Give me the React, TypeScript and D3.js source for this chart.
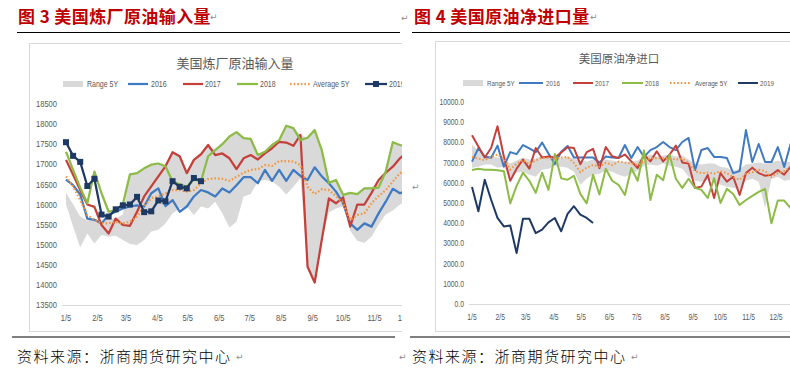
import React from "react";
import * as d3 from "d3";

const YEAR = 2019;
const monthTickLabels = ["1/5", "2/5", "3/5", "4/5", "5/5", "6/5", "7/5", "8/5", "9/5", "10/5", "11/5", "12/5"];
const legendNames = ["Range 5Y", "2016", "2017", "2018", "Average 5Y", "2019"];

// ---- Figure 3: US refinery crude input ----
const refineryYTicks = [13500, 14000, 14500, 15000, 15500, 16000, 16500, 17000, 17500, 18000, 18500];
const refineryRangeLow = [16000, 15450, 14930, 15280, 15030, 15240, 15200, 15220, 15120, 15020, 14990, 15120, 15330, 15370, 15530, 15780, 15900, 15950, 15740, 15950, 15900, 16070, 15780, 15430, 15570, 16200, 16260, 16570, 16610, 16570, 16440, 16250, 16440, 16650, 14450, 14060, 15120, 15800, 15900, 15950, 15350, 15100, 15050, 15200, 15500, 15750, 15850, 16000, 16100, 16200, 16300, 16400];
const refineryRangeHigh = [16300, 16000, 15700, 15600, 15650, 15550, 15650, 15650, 15750, 16750, 16780, 16900, 16990, 17020, 16950, 17300, 17200, 16780, 17110, 17250, 17480, 17350, 17500, 17690, 17800, 17650, 17630, 17230, 17310, 17480, 17600, 17960, 17900, 17730, 17660, 17850, 17350, 16540, 16610, 16240, 16290, 16260, 16400, 16400, 16610, 16820, 17550, 17480, 17450, 17500, 17550, 17600];
const refinery2016 = [16620, 16480, 16250, 15650, 15620, 15530, 15740, 15820, 15900, 15950, 15980, 15950, 16280, 16400, 15960, 16110, 15820, 15950, 16200, 16360, 16300, 16200, 16400, 16300, 16480, 16680, 16680, 16530, 16860, 16590, 16860, 16590, 16860, 16710, 16610, 16925, 16700, 16530, 16320, 16030, 15530, 15370, 15530, 15450, 15780, 16070, 16390, 16280, 16350, 16500, 16600, 16650];
const refinery2017 = [17110, 16740, 16360, 16000, 15940, 15490, 15280, 15650, 15490, 15470, 15820, 16200, 16450, 16700, 16950, 17300, 17200, 16780, 17110, 17250, 17480, 17230, 17270, 17150, 16880, 17150, 17230, 17120, 17270, 17400, 17560, 17540, 17460, 17730, 14450, 14060, 15120, 16150, 16030, 16180, 15450, 16000, 16000, 16290, 16610, 16790, 16940, 17150, 17300, 17400, 17500, 17550];
const refinery2018 = [17310, 16860, 16420, 16030, 16820, 16280, 15820, 15860, 16000, 16750, 16780, 16900, 16990, 17020, 16950, 16570, 16500, 16440, 16620, 16580, 17200, 17350, 17500, 17690, 17800, 17650, 17630, 17230, 17310, 17480, 17600, 17960, 17900, 17600, 17660, 17850, 17350, 16540, 16610, 16240, 16290, 16260, 16400, 16400, 16420, 16820, 17550, 17480, 17450, 17500, 17550, 17600];
const refineryAvg5Y = [16700, 16450, 16110, 15740, 15620, 15530, 15530, 15570, 15530, 15570, 15700, 15950, 16160, 16200, 16280, 16360, 16360, 16320, 16360, 16530, 16630, 16650, 16640, 16590, 16690, 16790, 16860, 16880, 16980, 16960, 17080, 17080, 17070, 16980, 16440, 16260, 16380, 16360, 16210, 16030, 15620, 15740, 15780, 16030, 16210, 16360, 16570, 16780, 16850, 16950, 17000, 17050];
const refinery2019 = [17550, 17210, 17060, 16460, 16640, 15750, 15700, 15880, 15980, 16000, 16190, 15810, 15830, 16100, 16080, 16580, 16440, 16400, 16660, 16580];

// ---- Figure 4: US crude net imports ----
const importsYTicks = [0, 1000, 2000, 3000, 4000, 5000, 6000, 7000, 8000, 9000, 10000];
const importsRangeLow = [6750, 6800, 6900, 6900, 6750, 6800, 6300, 6500, 6550, 6400, 6300, 6650, 6700, 6850, 6800, 6750, 6550, 5900, 6200, 6400, 6450, 6600, 6550, 6400, 6300, 6450, 6600, 6850, 6900, 6850, 6950, 6850, 6800, 6700, 6300, 6100, 6050, 6150, 6100, 5900, 5800, 5750, 5650, 6100, 6200, 6050, 4750, 6200, 6300, 6100, 6150, 6200];
const importsRangeHigh = [7900, 7600, 7300, 7300, 7250, 7200, 6950, 7100, 7250, 7150, 7200, 7350, 7200, 7350, 7200, 7300, 7200, 7100, 7050, 7150, 7100, 7150, 7100, 7050, 7000, 7050, 7100, 7300, 7400, 7300, 7350, 7400, 7300, 7350, 7150, 6950, 6900, 6950, 6950, 6800, 6750, 6600, 6700, 6900, 6950, 7000, 6950, 7000, 7100, 7000, 7050, 7000];
const imports2016 = [7050, 7720, 7290, 7240, 7840, 6800, 7520, 7420, 7870, 7700, 7520, 7990, 7450, 6930, 7540, 7820, 7250, 7250, 7250, 7250, 7000, 7300, 7250, 7230, 7870, 7230, 7770, 7280, 7620, 7770, 8020, 7770, 7620, 8020, 8220, 6630, 7620, 7720, 7280, 7280, 7230, 6480, 6580, 8610, 7030, 7920, 7030, 7030, 7770, 6780, 7920, 7850];
const imports2017 = [8350, 7800, 7250, 7720, 8800, 7300, 6100, 6700, 7150, 6700, 7720, 7250, 7300, 7250, 7500, 7760, 7720, 6920, 7520, 7680, 6720, 7770, 7310, 7230, 7400, 7060, 6730, 7390, 7060, 7560, 7060, 7390, 7840, 7010, 6950, 5740, 5810, 6390, 5250, 6480, 6060, 6300, 5400, 6480, 6750, 6480, 6350, 6400, 6630, 6400, 6800, 6700];
const imports2018 = [6630, 6700, 6650, 6650, 6620, 6570, 4980, 5850, 6500, 6100, 5500, 6500, 5650, 7430, 6220, 6150, 6350, 5450, 4980, 6400, 5420, 6700, 6100, 5900, 5400, 6730, 6100, 7600, 5150, 6400, 6130, 7400, 6200, 5750, 6200, 5750, 5650, 5250, 6230, 5000, 5700, 5450, 4900, 5150, 5350, 5550, 5700, 4000, 5120, 5120, 4750, 5000];
const importsAvg5Y = [7280, 7200, 7120, 7280, 7400, 7200, 6650, 6950, 7130, 6930, 7100, 7240, 7220, 7180, 7250, 7280, 6980, 6530, 6750, 6880, 6800, 7000, 6880, 7050, 7000, 6960, 6880, 7050, 7220, 7220, 7220, 7200, 7150, 7200, 7000, 6580, 6480, 6500, 6450, 6580, 6480, 6280, 6150, 6450, 6520, 6650, 6580, 6280, 6480, 6580, 6780, 6800];
const imports2019 = [5790, 4590, 6150, 5160, 4260, 3840, 3890, 2520, 4220, 4220, 3510, 3680, 4040, 4260, 3600, 4460, 4840, 4420, 4260, 4010];

const COLORS = {
  range: "#D9D9D9",
  y2016: "#3F7AC2",
  y2017: "#C5403B",
  y2018: "#8CBB46",
  avg: "#F5953F",
  y2019: "#1E3A64",
};
const seriesColors = [COLORS.range, COLORS.y2016, COLORS.y2017, COLORS.y2018, COLORS.avg, COLORS.y2019];

const weekDate = (i: number) => new Date(YEAR, 0, 5 + 7 * i);
const parseTick = (s: string) => {
  const [m, d] = s.split("/").map(Number);
  return new Date(YEAR, m - 1, d);
};

const LATIN = "'Liberation Sans', Arial, sans-serif";
const CJK = "'Noto Sans CJK SC', 'Noto Sans', sans-serif";

function SmallText(props: { x: number; y: number; size: number; sx: number; anchor?: string; fill?: string; children: any }) {
  const { x, y, size, sx, anchor = "start", fill = "#595959", children } = props;
  return (
    <text
      transform={`translate(${x},${y}) scale(${sx},1)`}
      textAnchor={anchor}
      fontSize={size}
      fill={fill}
      fontFamily={LATIN}
      dy="0.35em"
    >
      {children}
    </text>
  );
}

type ChartCfg = {
  id: string;
  clipW: number;
  frame: [number, number, number, number];
  title: string;
  titleX: number;
  titleY: number;
  titleSize: number;
  legendY: number;
  legendSize: number;
  legendSx: number;
  legendPos: [number, number, number][];
  xRange: [number, number];
  axisX0: number;
  yDomain: [number, number];
  yRange: [number, number];
  yTicks: number[];
  yFormat: (v: number) => string;
  yLabelX: number;
  tickSize: number;
  tickSx: number;
  xLabelY: number;
  low: number[];
  high: number[];
  s2016: number[];
  s2017: number[];
  s2018: number[];
  avg: number[];
  s2019: number[];
  markers: boolean;
  lw: number;
};

function Chart({ c }: { c: ChartCfg }) {
  const x = d3
    .scaleTime()
    .domain([parseTick(monthTickLabels[0]), parseTick(monthTickLabels[monthTickLabels.length - 1])])
    .range(c.xRange);
  const y = d3.scaleLinear().domain(c.yDomain).range(c.yRange);
  const xi = (i: number) => x(weekDate(i));
  const area = d3
    .area<number>()
    .x((_, i) => xi(i))
    .y0((_, i) => y(c.low[i]))
    .y1((d) => y(d));
  const line = d3
    .line<number>()
    .x((_, i) => xi(i))
    .y((d) => y(d));
  const [fx, fy, fw, fh] = c.frame;
  const axisY = y(c.yDomain[0]);

  return (
    <g clipPath={`url(#clip-${c.id})`}>
      <defs>
        <clipPath id={`clip-${c.id}`}>
          <rect x={c.frame[0] - 2} y={0} width={c.clipW} height={373} />
        </clipPath>
      </defs>
      <rect x={fx + 0.5} y={fy + 0.5} width={fw} height={fh} fill="#fff" stroke="#D9D9D9" strokeWidth={1} />
      <text
        x={c.titleX}
        y={c.titleY}
        textAnchor="middle"
        dominantBaseline="central"
        fontSize={c.titleSize}
        fill="#595959"
        fontFamily={CJK}
      >
        {c.title}
      </text>
      {legendNames.map((name, k) => {
        const [s0, s1, tx] = c.legendPos[k];
        const ly = c.legendY;
        let sw: any;
        if (k === 0) sw = <rect x={s0} y={ly - 3} width={s1 - s0} height={6} fill={COLORS.range} />;
        else if (k === 4)
          sw = (
            <line x1={s0} x2={s1} y1={ly} y2={ly} stroke={COLORS.avg} strokeWidth={c.lw} strokeDasharray="1.6 2" />
          );
        else
          sw = (
            <g>
              <line x1={s0} x2={s1} y1={ly} y2={ly} stroke={seriesColors[k]} strokeWidth={c.lw} />
              {k === 5 && c.markers && (
                <rect x={(s0 + s1) / 2 - 3} y={ly - 3} width={6} height={6} fill={COLORS.y2019} />
              )}
            </g>
          );
        return (
          <g key={name}>
            {sw}
            <SmallText x={tx} y={ly} size={c.legendSize} sx={c.legendSx}>
              {name}
            </SmallText>
          </g>
        );
      })}
      {c.yTicks.map((t) => (
        <SmallText key={t} x={c.yLabelX} y={y(t)} size={c.tickSize} sx={c.tickSx} anchor="end">
          {c.yFormat(t)}
        </SmallText>
      ))}
      <line x1={c.axisX0} x2={fx + fw} y1={axisY + 0.5} y2={axisY + 0.5} stroke="#D9D9D9" strokeWidth={1} />
      {monthTickLabels.map((t) => (
        <SmallText key={t} x={x(parseTick(t))} y={c.xLabelY} size={c.tickSize} sx={c.tickSx} anchor="middle">
          {t}
        </SmallText>
      ))}
      <path d={area(c.high) || ""} fill={COLORS.range} />
      <path d={line(c.s2016) || ""} fill="none" stroke={COLORS.y2016} strokeWidth={c.lw} strokeLinejoin="round" />
      <path d={line(c.s2017) || ""} fill="none" stroke={COLORS.y2017} strokeWidth={c.lw} strokeLinejoin="round" />
      <path d={line(c.s2018) || ""} fill="none" stroke={COLORS.y2018} strokeWidth={c.lw} strokeLinejoin="round" />
      <path d={line(c.avg) || ""} fill="none" stroke={COLORS.avg} strokeWidth={c.lw} strokeDasharray="1.6 2" />
      <path d={line(c.s2019) || ""} fill="none" stroke={COLORS.y2019} strokeWidth={c.lw} strokeLinejoin="round" />
      {c.markers &&
        c.s2019.map((v, i) => <rect key={i} x={xi(i) - 3} y={y(v) - 3} width={6} height={6} fill={COLORS.y2019} />)}
    </g>
  );
}

const leftCfg: ChartCfg = {
  id: "refinery",
  clipW: 375,
  frame: [29, 43, 420, 288],
  title: "美国炼厂原油输入量",
  titleX: 235,
  titleY: 62,
  titleSize: 13,
  legendY: 84,
  legendSize: 9,
  legendSx: 0.78,
  legendPos: [
    [63, 83, 87],
    [128, 148, 151],
    [183, 203, 205],
    [237, 258, 260],
    [290, 310, 313],
    [365, 387, 389],
  ],
  xRange: [66, 405],
  axisX0: 62,
  yDomain: [13500, 18500],
  yRange: [305, 104],
  yTicks: refineryYTicks,
  yFormat: (v) => String(v),
  yLabelX: 57,
  tickSize: 9,
  tickSx: 0.84,
  xLabelY: 318,
  low: refineryRangeLow,
  high: refineryRangeHigh,
  s2016: refinery2016,
  s2017: refinery2017,
  s2018: refinery2018,
  avg: refineryAvg5Y,
  s2019: refinery2019,
  markers: true,
  lw: 2.25,
};

const rightCfg: ChartCfg = {
  id: "imports",
  clipW: 400,
  frame: [435, 41, 380, 290],
  title: "美国原油净进口",
  titleX: 619,
  titleY: 58,
  titleSize: 11.5,
  legendY: 83,
  legendSize: 8,
  legendSx: 0.78,
  legendPos: [
    [463, 483, 487],
    [519, 543, 546],
    [573, 593, 595],
    [622, 643, 645],
    [670, 690, 695],
    [738, 758, 760],
  ],
  xRange: [472, 776],
  axisX0: 469,
  yDomain: [0, 10000],
  yRange: [304, 102],
  yTicks: importsYTicks,
  yFormat: d3.format(".1f"),
  yLabelX: 464,
  tickSize: 8.5,
  tickSx: 0.8,
  xLabelY: 317,
  low: importsRangeLow,
  high: importsRangeHigh,
  s2016: imports2016,
  s2017: imports2017,
  s2018: imports2018,
  avg: importsAvg5Y,
  s2019: imports2019,
  markers: false,
  lw: 2,
};

function Ret({ x, y }: { x: number; y: number }) {
  return (
    <text x={x} y={y} fontSize={9} fill="#8c8c8c" fontFamily="'DejaVu Sans', sans-serif" dominantBaseline="central">
      ↵
    </text>
  );
}

export default function App() {
  return (
    <svg
      width={790}
      height={373}
      viewBox="0 0 790 373"
      style={{ position: "absolute", left: 0, top: 0, background: "#fff" }}
    >
      <rect x={0} y={0} width={790} height={373} fill="#fff" />
      <text x={18} y={22.5} fontSize={17} fontWeight="bold" fill="#C00000" fontFamily={CJK} letterSpacing={0.4}>
        图 3 美国炼厂原油输入量
      </text>
      <Ret x={210} y={17} />
      <Ret x={401} y={18} />
      <text x={414} y={22.5} fontSize={17} fontWeight="bold" fill="#C00000" fontFamily={CJK} letterSpacing={0.4}>
        图 4 美国原油净进口量
      </text>
      <Ret x={590} y={17} />
      <line x1={17} x2={400} y1={32.5} y2={32.5} stroke="#000" strokeWidth={1.2} />
      <line x1={412} x2={790} y1={32.5} y2={32.5} stroke="#000" strokeWidth={1.2} />

      <Chart c={leftCfg} />
      <Chart c={rightCfg} />
      <Ret x={412} y={187} />

      <line x1={12} x2={395} y1={337} y2={337} stroke="#000" strokeWidth={1.2} />
      <line x1={410} x2={790} y1={337} y2={337} stroke="#000" strokeWidth={1.2} />
      <text x={17} y={362} fontSize={15} fontWeight={300} fill="#000" fontFamily={CJK} letterSpacing={1.5}>
        资料来源：浙商期货研究中心
      </text>
      <Ret x={236} y={357} />
      <Ret x={399} y={357} />
      <text x={412} y={362} fontSize={15} fontWeight={300} fill="#000" fontFamily={CJK} letterSpacing={1.5}>
        资料来源：浙商期货研究中心
      </text>
      <Ret x={631} y={357} />
    </svg>
  );
}
